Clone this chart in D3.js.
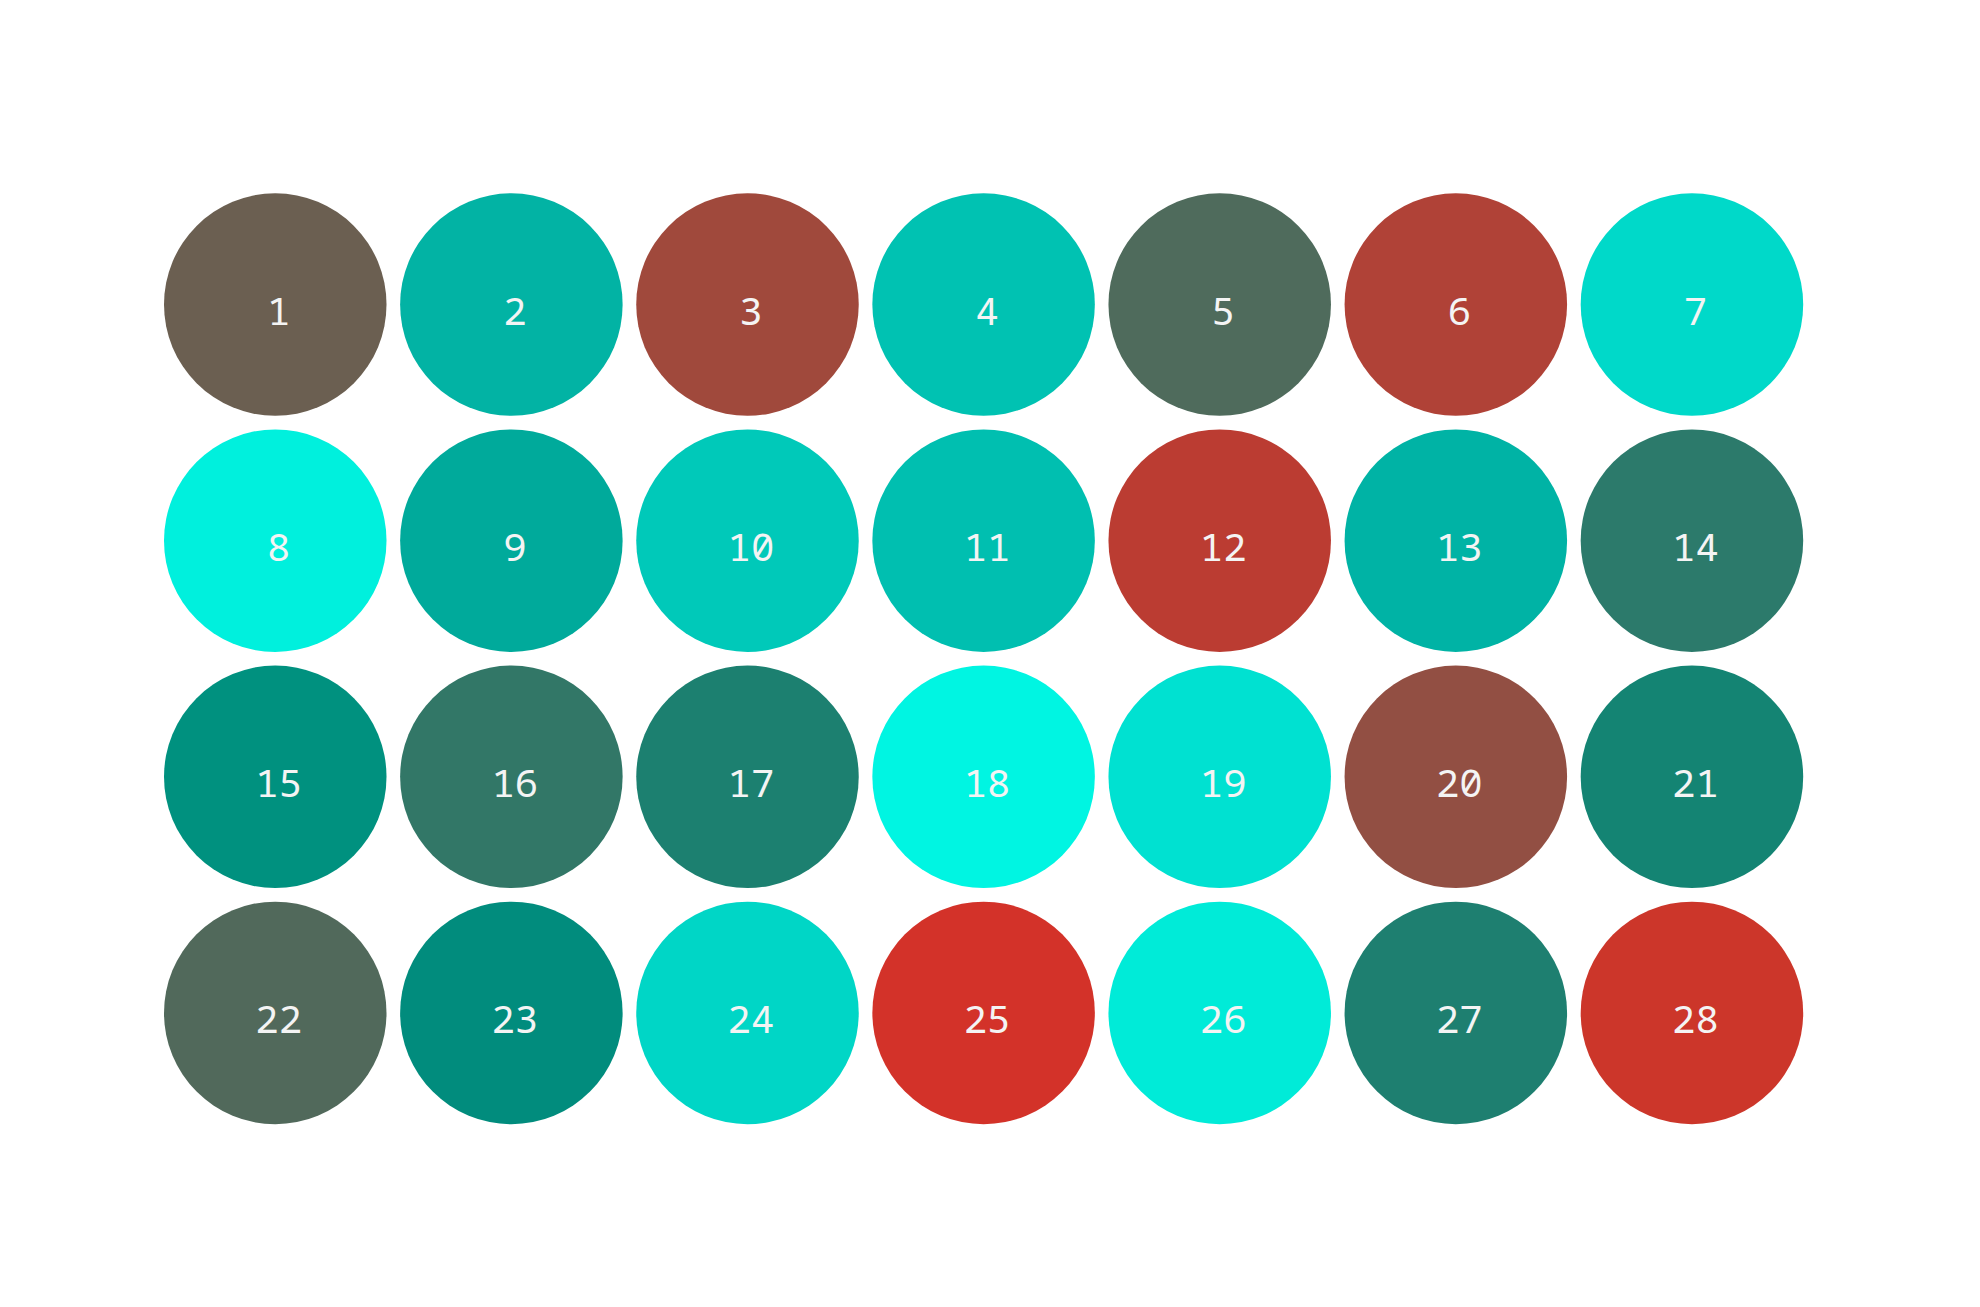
<!DOCTYPE html>
<html>
<head>
<meta charset="utf-8">
<script src="https://cdn.jsdelivr.net/npm/d3@7"></script>
<style>
  body { margin: 0; background: #fff; }
  svg { display: block; }
</style>
</head>
<body>
<div id="chart-area"></div>
<script>
var labels = d3.range(1, 29);

var colors = [
    '#6b5f51', '#02b3a4', '#a0493c', '#00c2b2', '#4f6b5c', '#b04237', '#00d9c9',
    '#00f0dd', '#00aa9b', '#00c9b9', '#00bfb0', '#bb3c32', '#00b3a5', '#2c7a6b',
    '#00917f', '#327767', '#1c8070', '#00f5e2', '#00e1d1', '#924f43', '#148473',
    '#51695b', '#018c7d', '#00d6c6', '#d33229', '#00ebd8', '#1e7f70', '#cc362a'
];

var columns = 7;
var rows = 4;

var width = 1980;
var height = 1307;

var svg = d3.select('#chart-area')
    .append('svg')
    .attr('width', width)
    .attr('height', height);

var x = d3.scaleBand()
    .domain(d3.range(columns))
    .range([157.2, 1810]);

var y = d3.scaleBand()
    .domain(d3.range(rows))
    .range([186.5, 1131]);

var r = x.bandwidth() / 2 - 6.8;

var cells = svg.selectAll('g.cell')
    .data(labels)
    .enter()
    .append('g')
    .attr('class', 'cell')
    .attr('transform', function (d, i) {
        var cx = x(i % columns) + x.bandwidth() / 2;
        var cy = y(Math.floor(i / columns)) + y.bandwidth() / 2;
        return 'translate(' + cx + ',' + cy + ')';
    });

cells.append('circle')
    .attr('r', r)
    .attr('fill', function (d, i) {
        return colors[i];
    });

cells.append('text')
    .attr('x', 3.5)
    .attr('y', 20)
    .attr('text-anchor', 'middle')
    .attr('fill', '#f4f4f4')
    .style('font-family', '"Noto Sans Mono", "DejaVu Sans Mono", monospace')
    .style('font-variant-numeric', 'slashed-zero')
    .style('font-size', '39px')
    .text(function (d) {
        return d;
    });
</script>
</body>
</html>
